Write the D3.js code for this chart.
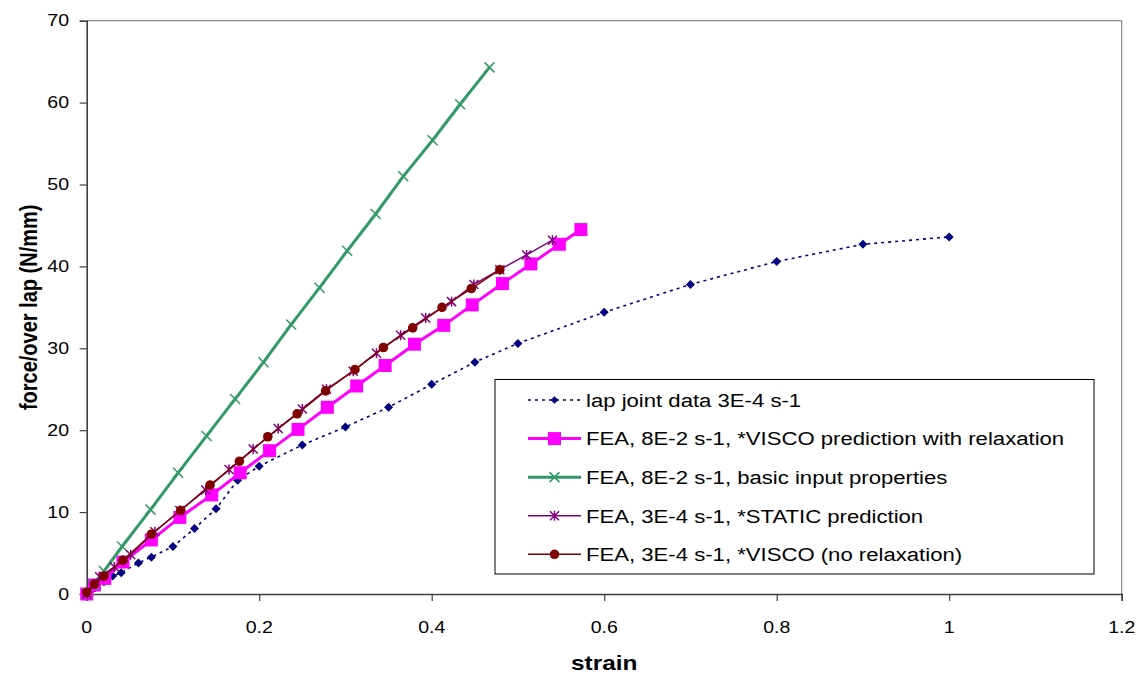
<!DOCTYPE html>
<html><head><meta charset="utf-8">
<script src="https://cdn.jsdelivr.net/npm/d3@7"></script>
<style>body{margin:0;background:#fff;} svg{display:block;font-family:"Liberation Sans",Arial,sans-serif;}</style>
</head><body>
<svg id="chart" width="1143" height="675"></svg>
<script>
// ---- data ----
const lapX = [0, 0.005, 0.01, 0.02, 0.03, 0.04, 0.06, 0.075, 0.1, 0.125, 0.15, 0.175, 0.2, 0.25, 0.3, 0.35, 0.4, 0.45, 0.5, 0.6, 0.7, 0.8, 0.9, 1.0];
const lapY = [0, 0.4, 0.8, 1.5, 2.2, 2.6, 3.8, 4.5, 5.8, 8.0, 10.4, 13.9, 15.6, 18.2, 20.4, 22.8, 25.6, 28.3, 30.6, 34.4, 37.8, 40.6, 42.7, 43.6];

const relaxX = [0, 0.009, 0.021, 0.042, 0.075, 0.108, 0.145, 0.178, 0.212, 0.245, 0.279, 0.313, 0.346, 0.380, 0.414, 0.447, 0.482, 0.515, 0.548, 0.573];
const relaxY = [0, 1.1, 1.9, 3.9, 6.6, 9.35, 12.1, 14.8, 17.5, 20.1, 22.8, 25.4, 27.9, 30.5, 32.8, 35.3, 37.9, 40.3, 42.7, 44.5];

const basicX = [0, 0.008, 0.02, 0.041, 0.074, 0.106, 0.139, 0.172, 0.205, 0.237, 0.270, 0.302, 0.335, 0.367, 0.401, 0.433, 0.467];
const basicY = [0, 1.1, 2.8, 5.8, 10.3, 14.8, 19.3, 23.8, 28.3, 32.9, 37.4, 41.9, 46.4, 51.0, 55.4, 59.8, 64.3];

const staticX = [0, 0.015, 0.032, 0.051, 0.079, 0.108, 0.138, 0.165, 0.193, 0.222, 0.25, 0.278, 0.309, 0.336, 0.364, 0.393, 0.423, 0.449, 0.479, 0.51, 0.54];
const staticY = [0, 2.1, 3.3, 4.8, 7.6, 10.2, 12.7, 15.2, 17.7, 20.2, 22.6, 25.0, 27.2, 29.4, 31.6, 33.7, 35.7, 37.8, 39.6, 41.4, 43.2];

const viscoX = [0, 0.009, 0.020, 0.042, 0.075, 0.109, 0.143, 0.177, 0.21, 0.244, 0.277, 0.311, 0.344, 0.378, 0.412, 0.446, 0.479];
const viscoY = [0.2, 1.2, 2.2, 4.1, 7.3, 10.2, 13.3, 16.2, 19.2, 22.0, 24.8, 27.4, 30.1, 32.5, 35.0, 37.3, 39.6];

const xTicks = [0, 0.2, 0.4, 0.6, 0.8, 1, 1.2];
const yTicks = [0, 10, 20, 30, 40, 50, 60, 70];
const seriesNames = [
  "lap joint data 3E-4 s-1",
  "FEA, 8E-2 s-1, *VISCO prediction with relaxation",
  "FEA, 8E-2 s-1, basic input properties",
  "FEA, 3E-4 s-1, *STATIC prediction",
  "FEA, 3E-4 s-1, *VISCO (no relaxation)"
];

// ---- layout ----
const SX = 1.22;   // horizontal text stretch seen in the reference (axis text)
const SXL = 1.165; // legend text stretch
const svg = d3.select("#chart");
const L = 86.7, R = 1121.7, T = 20.7, B = 594;
const x = d3.scaleLinear().domain([0, 1.2]).range([L, R]);
const y = d3.scaleLinear().domain([0, 70]).range([B, T]);

// plot border (top/right)
svg.append("line").attr("x1", L).attr("x2", R).attr("y1", T).attr("y2", T).attr("stroke", "#888").attr("stroke-width", 1.2);
svg.append("line").attr("x1", R).attr("x2", R).attr("y1", T).attr("y2", B).attr("stroke", "#888").attr("stroke-width", 1.2);

// axes (lines and ticks via d3 axes, labels placed with the same scales)
const xAxis = svg.append("g").attr("transform", `translate(0,${B})`)
  .call(d3.axisBottom(x).tickValues(xTicks).tickSize(7).tickFormat(""));
const yAxis = svg.append("g").attr("transform", `translate(${L},0)`)
  .call(d3.axisLeft(y).tickValues(yTicks).tickSize(7).tickFormat(""));
[xAxis, yAxis].forEach(g => {
  g.select(".domain").attr("stroke", "#404040").attr("stroke-width", 1.6);
  g.selectAll(".tick line").attr("stroke", "#404040").attr("stroke-width", 1.2);
});
svg.append("g").selectAll("text").data(xTicks).join("text")
  .attr("transform", d => `translate(${x(d)},633) scale(${SX},1)`)
  .attr("text-anchor", "middle").style("font-size", "16px").attr("fill", "#000")
  .text(d => String(d));
svg.append("g").selectAll("text").data(yTicks).join("text")
  .attr("transform", d => `translate(69,${y(d)}) scale(${SX},1)`)
  .attr("text-anchor", "end").attr("dy", "0.36em").style("font-size", "16px").attr("fill", "#000")
  .text(d => String(d));

// axis titles
svg.append("text").attr("transform", `translate(${(L + R) / 2},670) scale(${SX},1)`).attr("text-anchor", "middle")
  .style("font-weight", "bold").style("font-size", "20px").text("strain");
svg.append("text").attr("transform", `translate(37,${(T + B) / 2}) rotate(-90) scale(1,${SX})`).attr("text-anchor", "middle")
  .style("font-weight", "bold").style("font-size", "20px").text("force/over lap (N/mm)");

// ---- series ----
const line = d3.line().x(d => x(d[0])).y(d => y(d[1]));
const zip = (a, b) => a.map((v, i) => [v, b[i]]);

const series = [
  {name: seriesNames[0], data: zip(lapX, lapY), color: "#000080", width: 1.6, dash: "3,4", marker: "diamond"},
  {name: seriesNames[1], data: zip(relaxX, relaxY), color: "#FF00FF", width: 3, dash: null, marker: "square"},
  {name: seriesNames[2], data: zip(basicX, basicY), color: "#339966", width: 3, dash: null, marker: "x"},
  {name: seriesNames[3], data: zip(staticX, staticY), color: "#800080", width: 1.5, dash: null, marker: "star"},
  {name: seriesNames[4], data: zip(viscoX, viscoY), color: "#800000", width: 1.5, dash: null, marker: "circle"}
];

function drawMarker(g, type, cx, cy, color, scale) {
  const s = scale || 1;
  if (type === "diamond") {
    const r = 4.5 * s;
    g.append("path").attr("d", `M${cx},${cy - r}L${cx + r},${cy}L${cx},${cy + r}L${cx - r},${cy}Z`).attr("fill", color);
  } else if (type === "square") {
    const h = 6.5 * s;
    g.append("rect").attr("x", cx - h).attr("y", cy - h).attr("width", 2 * h).attr("height", 2 * h).attr("fill", color);
  } else if (type === "x") {
    const h = 5 * s;
    g.append("path").attr("d", `M${cx - h},${cy - h}L${cx + h},${cy + h}M${cx - h},${cy + h}L${cx + h},${cy - h}`)
      .attr("stroke", color).attr("stroke-width", 1.5).attr("fill", "none");
  } else if (type === "star") {
    const h = 4.5 * s;
    g.append("path").attr("d", `M${cx - h},${cy - h}L${cx + h},${cy + h}M${cx - h},${cy + h}L${cx + h},${cy - h}M${cx},${cy - h * 1.1}L${cx},${cy + h * 1.1}`)
      .attr("stroke", color).attr("stroke-width", 1.5).attr("fill", "none");
  } else if (type === "circle") {
    g.append("circle").attr("cx", cx).attr("cy", cy).attr("r", 4.8 * s).attr("fill", color);
  }
}

series.forEach(s => {
  const g = svg.append("g");
  g.append("path").datum(s.data).attr("d", line).attr("fill", "none")
    .attr("stroke", s.color).attr("stroke-width", s.width)
    .attr("stroke-dasharray", s.dash);
  s.data.forEach(d => drawMarker(g, s.marker, x(d[0]), y(d[1]), s.color));
});

// ---- legend ----
const lg = svg.append("g");
lg.append("rect").attr("x", 495).attr("y", 379.5).attr("width", 599).attr("height", 194.5)
  .attr("fill", "#fff").attr("stroke", "#000").attr("stroke-width", 1);
const legendY = d3.scalePoint().domain(seriesNames).range([400, 554.3]);
series.forEach((s, i) => {
  const cy = legendY(s.name);
  lg.append("line").attr("x1", 528).attr("x2", 581).attr("y1", cy).attr("y2", cy)
    .attr("stroke", s.color).attr("stroke-width", s.width).attr("stroke-dasharray", s.dash);
  drawMarker(lg, s.marker, 554.5, cy, s.color, i === 0 ? 0.85 : 1);
  lg.append("text").attr("transform", `translate(586,${cy}) scale(${SXL},1)`).attr("dy", "0.36em")
    .style("font-size", "19px").attr("fill", "#000").text(s.name);
});
</script>
</body></html>
